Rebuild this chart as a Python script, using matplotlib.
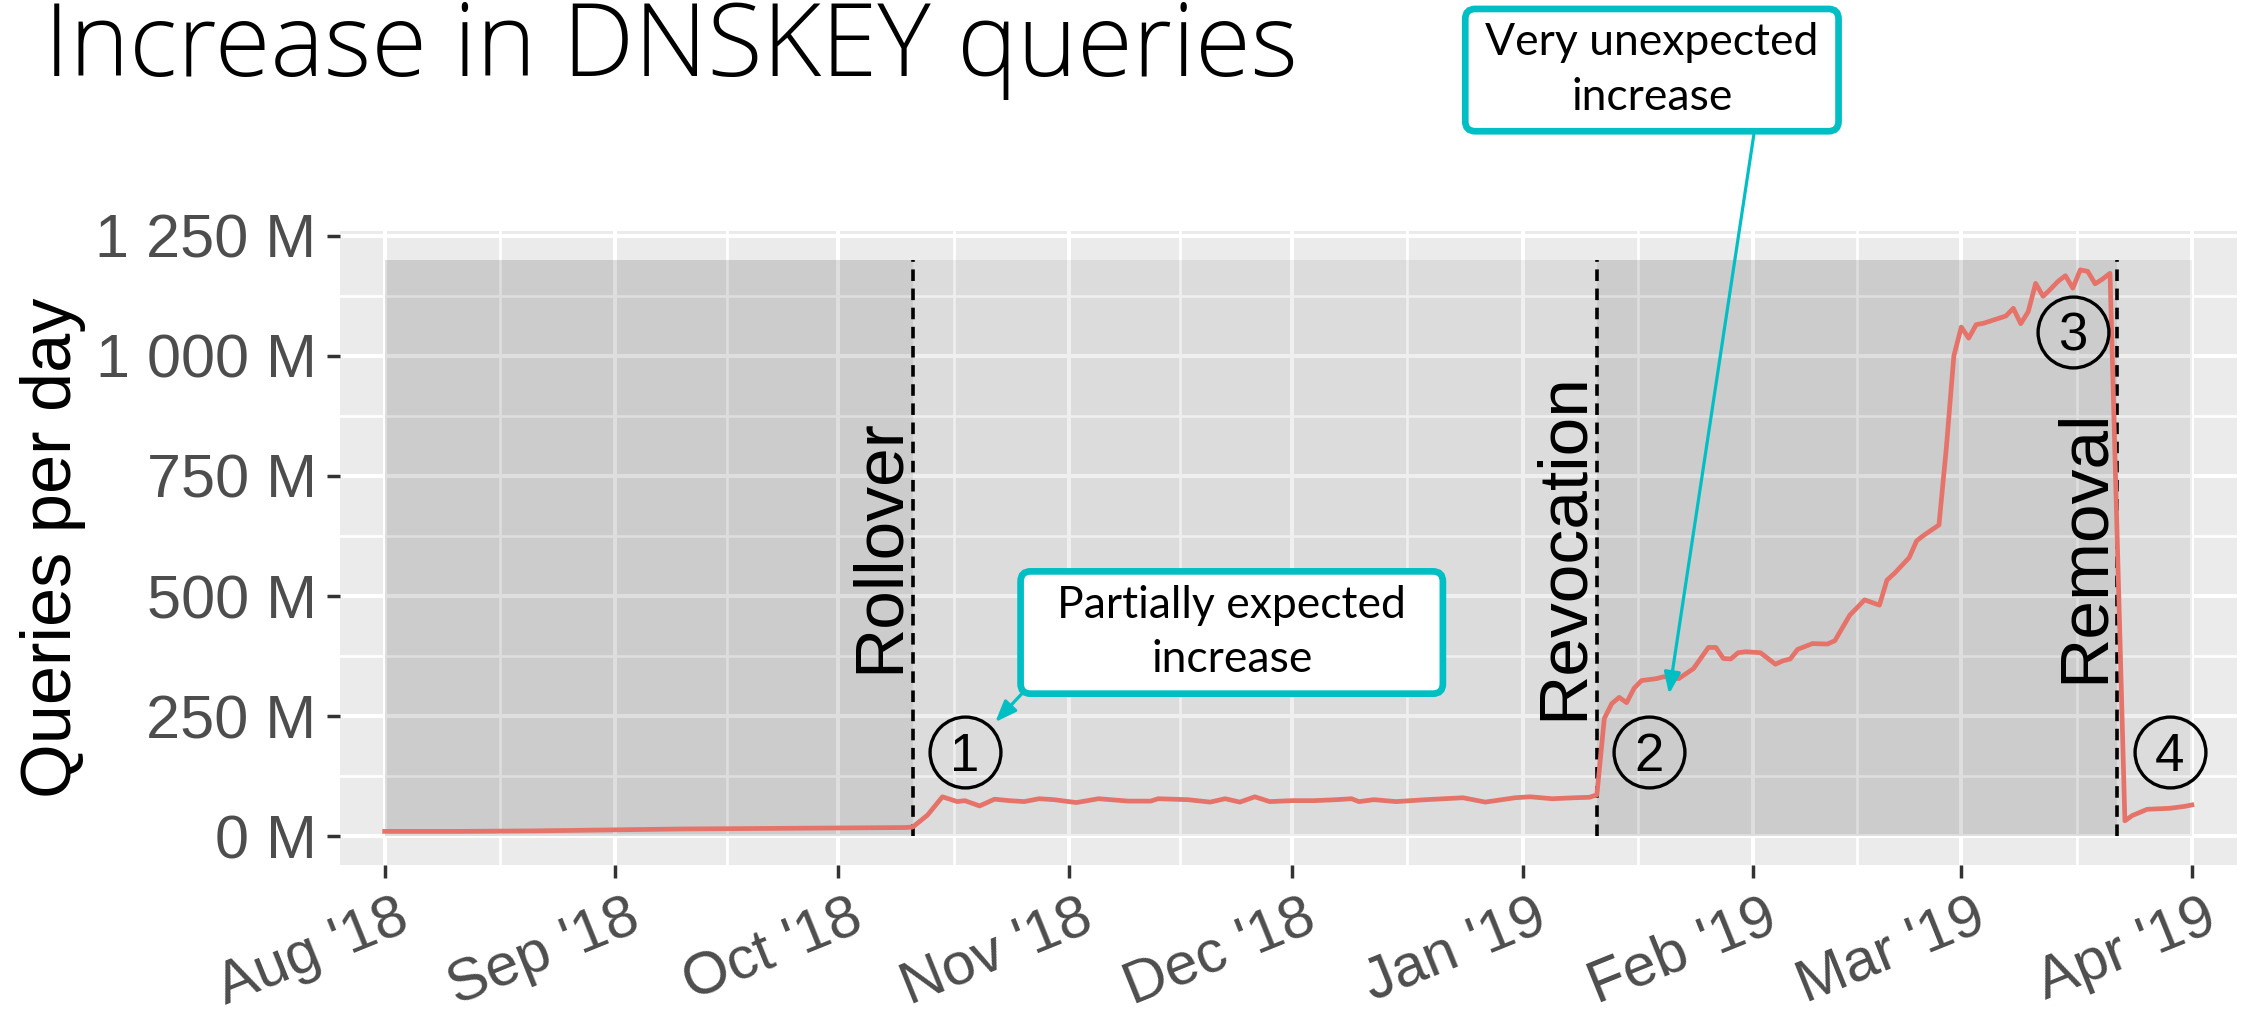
import numpy as np
import matplotlib
matplotlib.use("Agg")
import matplotlib.pyplot as plt
import matplotlib.dates as mdates
from matplotlib.patches import FancyBboxPatch
from matplotlib.transforms import IdentityTransform, ScaledTranslation

# ---------------- data ----------------
dates = ["2018-08-01", "2018-08-11", "2018-08-21", "2018-08-31", "2018-09-10",
         "2018-09-20", "2018-09-30", "2018-10-10", "2018-10-11", "2018-10-13",
         "2018-10-15", "2018-10-17", "2018-10-18", "2018-10-20", "2018-10-22",
         "2018-10-24", "2018-10-26", "2018-10-28", "2018-10-30", "2018-11-02",
         "2018-11-05", "2018-11-09", "2018-11-12", "2018-11-13", "2018-11-17",
         "2018-11-20", "2018-11-22", "2018-11-24", "2018-11-26", "2018-11-28",
         "2018-12-01", "2018-12-04", "2018-12-07", "2018-12-09", "2018-12-10",
         "2018-12-12", "2018-12-15", "2018-12-19", "2018-12-24", "2018-12-27",
         "2018-12-31", "2019-01-02", "2019-01-05", "2019-01-08", "2019-01-10",
         "2019-01-11", "2019-01-12", "2019-01-13", "2019-01-14", "2019-01-15",
         "2019-01-16", "2019-01-17", "2019-01-19", "2019-01-20", "2019-01-22",
         "2019-01-24", "2019-01-26", "2019-01-27", "2019-01-28", "2019-01-29",
         "2019-01-30", "2019-01-31", "2019-02-02", "2019-02-04", "2019-02-05",
         "2019-02-06", "2019-02-07", "2019-02-09", "2019-02-11", "2019-02-12",
         "2019-02-14", "2019-02-16", "2019-02-18", "2019-02-19", "2019-02-20",
         "2019-02-22", "2019-02-23", "2019-02-24", "2019-02-26", "2019-02-27",
         "2019-02-28", "2019-03-01", "2019-03-02", "2019-03-03", "2019-03-04",
         "2019-03-06", "2019-03-07", "2019-03-08", "2019-03-09", "2019-03-10",
         "2019-03-11", "2019-03-12", "2019-03-13", "2019-03-14", "2019-03-15",
         "2019-03-16", "2019-03-17", "2019-03-18", "2019-03-19", "2019-03-20",
         "2019-03-21", "2019-03-23", "2019-03-24", "2019-03-26", "2019-03-29",
         "2019-03-31", "2019-04-01"]
queries_m = [10, 10, 11, 13, 15,
             16, 17, 18, 19, 44,
             82, 72, 74, 63, 77,
             74, 72, 78, 76, 70,
             78, 73, 73, 78, 76,
             71, 78, 71, 82, 72,
             74, 74, 76, 78, 72,
             76, 72, 76, 80, 71,
             80, 82, 78, 80, 81,
             86, 245, 276, 289, 278,
             308, 324, 328, 332, 328,
             349, 393, 393, 370, 369,
             382, 384, 382, 358, 365,
             369, 389, 401, 400, 407,
             460, 492, 481, 533, 547,
             580, 615, 627, 648, 810,
             1000, 1060, 1037, 1065, 1068,
             1078, 1083, 1099, 1067, 1092,
             1151, 1124, 1139, 1155, 1167,
             1141, 1179, 1176, 1150, 1160,
             1172, 32, 43, 56, 58,
             62, 65]

phase_starts = ["2018-08-01", "2018-10-11", "2019-01-11", "2019-03-22"]
phase_ends = ["2018-10-11", "2019-01-11", "2019-03-22", "2019-04-01"]
phase_dark = [True, False, True, False]
shade_top = 1200

event_dates = ["2018-10-11", "2019-01-11", "2019-03-22"]
event_labels = ["Rollover", "Revocation", "Removal"]
event_label_y = 605

marker_dates = ["2018-10-18", "2019-01-18", "2019-03-16", "2019-03-29"]
marker_values = [175, 175, 1050, 175]
marker_labels = ["1", "2", "3", "4"]

y_ticks = [0, 250, 500, 750, 1000, 1250]
y_tick_labels = ["0 M", "250 M", "500 M", "750 M", "1 000 M", "1 250 M"]
y_minor = [125, 375, 625, 875, 1125]
x_tick_dates = ["2018-08-01", "2018-09-01", "2018-10-01", "2018-11-01", "2018-12-01",
                "2019-01-01", "2019-02-01", "2019-03-01", "2019-04-01"]
x_tick_labels = ["Aug '18", "Sep '18", "Oct '18", "Nov '18", "Dec '18",
                 "Jan '19", "Feb '19", "Mar '19", "Apr '19"]

title = "Increase in DNSKEY queries"
y_label = "Queries per day"
callout_texts = ["Partially expected\nincrease", "Very unexpected\nincrease"]

# ---------------- figure ----------------
plt.rcParams["font.family"] = ["Liberation Sans", "DejaVu Sans"]
W, H = 2244, 1016
fig = plt.figure(figsize=(W / 100, H / 100), dpi=100)
fig.patch.set_facecolor("white")
ax = fig.add_axes([339.5 / W, 1 - 865 / H, (2237 - 339.5) / W, (865 - 231) / H])

d = lambda s: mdates.date2num(np.datetime64(s))
xd = np.array([d(s) for s in dates])
x0, x1 = d(x_tick_dates[0]), d(x_tick_dates[-1])
pad = 0.025 * (x1 - x0)
ax.set_xlim(x0 - pad, x1 + pad)
ax.set_ylim(-60, 1260)

ax.set_facecolor("#EBEBEB")
for sp in ax.spines.values():
    sp.set_visible(False)
ax.set_axisbelow(True)

xt = [d(s) for s in x_tick_dates]
ax.set_xticks(xt)
ax.set_xticklabels(x_tick_labels, rotation=22, ha="right", va="top",
                   rotation_mode="anchor")
ax.set_xticks([(a + b) / 2 for a, b in zip(xt[:-1], xt[1:])], minor=True)
ax.set_yticks(y_ticks)
ax.set_yticklabels(y_tick_labels)
ax.set_yticks(y_minor, minor=True)
ax.grid(which="major", color="white", lw=2.9)
ax.grid(which="minor", color="white", lw=1.9)
ax.tick_params(which="minor", length=0)
ax.tick_params(which="major", color="#333333", length=9.5, width=2.5,
               labelcolor="#4D4D4D")
ax.tick_params(axis="y", pad=7, labelsize=44)
ax.tick_params(axis="x", pad=8.5, labelsize=43)
shift = ScaledTranslation(11 / 100, 0, fig.dpi_scale_trans)
for lab in ax.get_xticklabels():
    lab.set_transform(lab.get_transform() + shift)

# shaded phases
for s, e, dark in zip(phase_starts, phase_ends, phase_dark):
    ax.fill_between([d(s), d(e)], 0, shade_top, color="black",
                    alpha=0.128 if dark else 0.064, lw=0, zorder=1)

# event lines + labels
for s, lab in zip(event_dates, event_labels):
    ax.plot([d(s), d(s)], [0, shade_top], color="black", lw=2.6,
            ls=(0, (3.2, 2.1)), zorder=2)
    ax.annotate(lab, xy=(d(s), event_label_y), xytext=(-1, 0),
                textcoords="offset pixels", rotation=90, ha="right",
                va="center", fontsize=50, color="black", zorder=4)

# data line
ax.plot(xd, queries_m, color="#E5736A", lw=3.4, solid_joinstyle="round",
        zorder=3)

# circled numbers
for s, v, lab in zip(marker_dates, marker_values, marker_labels):
    ax.plot([d(s)], [v], marker="o", ms=51, mfc="none", mec="black",
            mew=2.4, ls="none", zorder=5)
    ax.annotate(lab, xy=(d(s), v), xytext=(0, -0.358 * 38),
                textcoords="offset points", ha="center", va="baseline",
                fontsize=38, color="black", zorder=5)

# callout boxes (centre in data coords, size in pixels)
teal = "#00BFC4"
boxes = [
    dict(cx=x0 + 113.9, cy=424, w=429, h=129,
         tip=(x0 + 82.1, 237.5), start=(x0 + 86.0, 302)),
    dict(cx=x0 + 170.4, cy=1595, w=380, h=129,
         tip=(x0 + 172.7, 296), start=(x0 + 184.1, 1460)),
]
blw_px = 6.7
for b, txt in zip(boxes, callout_texts):
    ax.annotate("", xy=b["tip"], xytext=b["start"], annotation_clip=False,
                arrowprops=dict(arrowstyle="-|>,head_length=13,head_width=5",
                                mutation_scale=1, color=teal, lw=2.3,
                                shrinkA=0, shrinkB=0), zorder=6)
    px, py = ax.transData.transform((b["cx"], b["cy"]))
    w, h = b["w"] - blw_px, b["h"] - blw_px
    patch = FancyBboxPatch((px - w / 2, py - h / 2), w, h,
                           boxstyle="round,pad=0,rounding_size=10",
                           transform=IdentityTransform(), fc="white",
                           ec=teal, lw=blw_px * 72 / 100, zorder=7)
    fig.add_artist(patch)
    fig.text(px / W, py / H, txt, ha="center", va="center", fontsize=32,
             family=["Lato", "DejaVu Sans"], linespacing=1.42, zorder=8)

# title and y label
fig.text(44 / W, 1 - 76 / H, title, ha="left", va="baseline", fontsize=73,
         family=["Open Sans", "DejaVu Sans"], weight="light", color="black")
fig.text(86 / W, 1 - 548 / H, y_label, rotation=90, ha="right", va="center",
         fontsize=50.7, color="black")

fig.savefig("out.png", dpi=100)
